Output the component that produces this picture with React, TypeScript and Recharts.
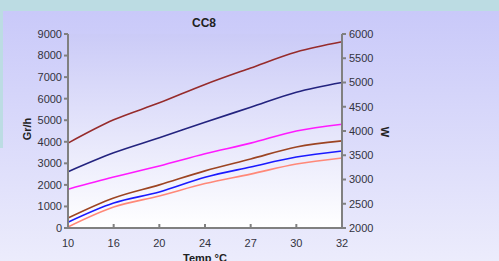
import React from 'react';
import { LineChart, Line, XAxis, YAxis } from 'recharts';

const temps = ['10', '16', '20', '24', '27', '30', '32'];
// Power (W), right axis
const wDarkRed = [3750, 4230, 4580, 4960, 5300, 5630, 5840];
const wNavy = [3160, 3550, 3860, 4180, 4490, 4800, 5000];
const wMagenta = [2800, 3050, 3280, 3530, 3750, 4000, 4140];
// Moisture removal (Gr/h), left axis
const grBrown = [460, 1390, 2000, 2650, 3200, 3760, 4040];
const grBlue = [270, 1160, 1670, 2350, 2830, 3290, 3570];
const grSalmon = [50, 975, 1485, 2060, 2500, 2970, 3250];

const leftTicks = [0, 1000, 2000, 3000, 4000, 5000, 6000, 7000, 8000, 9000];
const rightTicks = [2000, 2500, 3000, 3500, 4000, 4500, 5000, 5500, 6000];

const data = temps.map((t, i) => ({
  temp: t,
  w1: wDarkRed[i],
  w2: wNavy[i],
  w3: wMagenta[i],
  g1: grBrown[i],
  g2: grBlue[i],
  g3: grSalmon[i],
}));

const FONT = '"Liberation Sans", Arial, sans-serif';
const tickStyle = { fontSize: 11, fill: '#333340', fontFamily: FONT };
const axisStroke = { stroke: '#808080', strokeWidth: 2 };

export default function App() {
  return (
    <div style={{ position: 'absolute', left: 0, top: 0, width: 499, height: 261, overflow: 'hidden', background: '#bcdce3' }}>
      <div style={{ position: 'absolute', left: 0, top: 11, width: 499, height: 250, background: 'linear-gradient(to bottom, #c9c9f9, #ececfc)' }} />
      <div style={{ position: 'absolute', left: 0, top: 11, width: 3, height: 137, background: '#bcdce3' }} />
      <div style={{ position: 'absolute', left: 68, top: 34, width: 274, height: 194, background: 'linear-gradient(to bottom, #cbcbf7, #ffffff)' }} />
      <div style={{ position: 'absolute', left: 0, top: 0 }}>
        <LineChart width={499} height={261} data={data} margin={{ top: 34, right: 97, bottom: 3, left: 0 }}>
          <XAxis
            dataKey="temp"
            interval={0}
            height={30}
            tickSize={-4}
            tickMargin={15}
            tick={tickStyle}
            axisLine={axisStroke}
            tickLine={axisStroke}
          />
          <YAxis
            yAxisId="gr"
            domain={[0, 9000]}
            ticks={leftTicks}
            width={68}
            tickSize={4}
            tickMargin={2}
            tick={tickStyle}
            axisLine={axisStroke}
            tickLine={axisStroke}
          />
          <YAxis
            yAxisId="w"
            orientation="right"
            domain={[2000, 6000]}
            ticks={rightTicks}
            width={60}
            tickSize={4}
            tickMargin={3}
            tick={tickStyle}
            axisLine={axisStroke}
            tickLine={axisStroke}
          />
          <Line yAxisId="w" type="monotone" dataKey="w1" stroke="#962b2b" strokeWidth={1.6} dot={false} isAnimationActive={false} />
          <Line yAxisId="w" type="monotone" dataKey="w2" stroke="#23237f" strokeWidth={1.6} dot={false} isAnimationActive={false} />
          <Line yAxisId="w" type="monotone" dataKey="w3" stroke="#ff1aff" strokeWidth={1.6} dot={false} isAnimationActive={false} />
          <Line yAxisId="gr" type="monotone" dataKey="g1" stroke="#9c4422" strokeWidth={1.6} dot={false} isAnimationActive={false} />
          <Line yAxisId="gr" type="monotone" dataKey="g2" stroke="#1a1aff" strokeWidth={1.6} dot={false} isAnimationActive={false} />
          <Line yAxisId="gr" type="monotone" dataKey="g3" stroke="#ff8878" strokeWidth={1.6} dot={false} isAnimationActive={false} />
          <text x={204} y={27} textAnchor="middle" fontFamily={FONT} fontSize={12} fontWeight="bold" fill="#222">CC8</text>
          <text x={31} y={129} textAnchor="middle" fontFamily={FONT} fontSize={11} fontWeight="bold" fill="#222" transform="rotate(-90 31 129)">Gr/h</text>
          <text x={381} y={132} textAnchor="middle" fontFamily={FONT} fontSize={11} fontWeight="bold" fill="#222" transform="rotate(90 381 132)">W</text>
          <text x={205} y={262} textAnchor="middle" fontFamily={FONT} fontSize={11} fontWeight="bold" fill="#222">Temp °C</text>
        </LineChart>
      </div>
    </div>
  );
}
